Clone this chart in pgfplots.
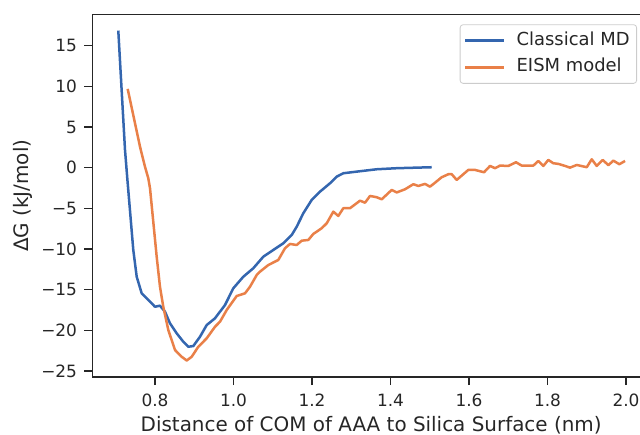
\documentclass[border=0pt]{standalone}
\usepackage{fontspec}
\setmainfont{DejaVu Sans}
\usepackage{pgfplots}
\pgfplotsset{compat=1.18}
\definecolor{mdblue}{RGB}{52,102,175}
\definecolor{eorange}{RGB}{233,128,72}
\definecolor{spine}{RGB}{38,38,38}
\begin{document}
\begin{tikzpicture}
\path[use as bounding box, clip] (-92.7bp,-58.3bp) rectangle (547.3bp,376.7bp);
\begin{axis}[
  scale only axis,
  width=556.9bp, height=362bp,
  at={(0,0)}, anchor=south west,
  xmin=0.6413, xmax=2.060,
  ymin=-25.7, ymax=18.8,
  xtick={0.8,1.0,1.2,1.4,1.6,1.8,2.0},
  xticklabels={0.8,1.0,1.2,1.4,1.6,1.8,2.0},
  ytick={-25,-20,-15,-10,-5,0,5,10,15},
  yticklabels={−25,−20,−15,−10,−5,0,5,10,15},
  xtick pos=bottom, ytick pos=left,
  tick align=outside,
  major tick length=8.5bp,
  tick style={line width=1.5bp, color=spine},
  axis line style={line width=1.6bp, color=spine},
  ticklabel style={font=\fontsize{17}{20}\selectfont, text=spine},
  xticklabel style={anchor=base, yshift=-21.5bp},
  yticklabel style={anchor=east, xshift=0bp, inner sep=7bp},
  every axis x label/.style={at={(axis description cs:0.5,0)}, anchor=base, yshift=-54.8bp, font=\fontsize{20}{24}\selectfont, text=spine},
  every axis y label/.style={at={(axis description cs:0,0.5)}, anchor=center, xshift=-69.5bp, rotate=90, font=\fontsize{20}{24}\selectfont, text=spine},
  xlabel={Distance of COM of AAA to Silica Surface (nm)},
  ylabel={ΔG (kJ/mol)},
  legend style={at={(rel axis cs:0.9774,0.9735)}, anchor=north east, draw=black!20, rounded corners=3bp, fill=white, font=\fontsize{18}{21}\selectfont, text=spine, inner xsep=4bp, inner ysep=4.5bp, nodes={inner sep=3bp, text height=13bp, text depth=4bp}, row sep=3.7bp, line width=0.8bp, /tikz/every odd column/.append style={column sep=8bp}},
  legend cell align=left,
  legend image code/.code={\draw[#1, line width=2.5bp] (0bp,0bp) -- (39bp,0bp);},
]
\addplot[color=mdblue, line width=2.5bp, line join=round] coordinates {
(0.7065,16.85) (0.7236,2.18) (0.7294,-1.30) (0.7447,-10.12) (0.7534,-13.41)
(0.7661,-15.45) (0.7873,-16.48) (0.800,-17.10) (0.8127,-16.97) (0.8255,-17.71)
(0.8382,-19.14) (0.8553,-20.37) (0.8721,-21.40) (0.8848,-22.02) (0.8976,-21.93)
(0.9146,-20.79) (0.9317,-19.35) (0.9529,-18.52) (0.9783,-16.89) (0.9995,-14.83)
(1.025,-13.41) (1.0504,-12.37) (1.0759,-10.95) (1.1014,-10.12) (1.1269,-9.30)
(1.1483,-8.28) (1.161,-7.26) (1.1778,-5.61) (1.1992,-3.97) (1.2204,-2.95)
(1.2459,-1.92) (1.2629,-1.11) (1.2797,-0.69) (1.3139,-0.49) (1.3648,-0.20)
(1.4158,-0.07) (1.505,0.05)
};
\addlegendentry{Classical MD}
\addplot[color=eorange, line width=2.5bp, line join=round] coordinates {
(0.7304,9.68) (0.7618,2.58) (0.7745,0.12) (0.7829,-1.30) (0.7873,-2.53)
(0.7957,-6.68) (0.8043,-10.95) (0.8127,-14.64) (0.8211,-17.10) (0.8339,-19.96)
(0.851,-22.42) (0.868,-23.25) (0.8808,-23.71) (0.8935,-23.25) (0.9103,-22.02)
(0.9317,-20.98) (0.9529,-19.56) (0.9656,-18.94) (0.9827,-17.50) (1.0081,-15.78)
(1.0293,-15.45) (1.042,-14.64) (1.0591,-13.20) (1.0675,-12.79) (1.0887,-11.97)
(1.1141,-11.35) (1.1312,-9.91) (1.1439,-9.38) (1.161,-9.51) (1.1738,-8.98)
(1.1906,-8.89) (1.2033,-8.15) (1.2247,-7.45) (1.2375,-6.84) (1.2543,-5.41)
(1.267,-5.94) (1.2797,-4.99) (1.2968,-4.99) (1.3223,-4.06) (1.335,-4.31)
(1.3478,-3.48) (1.3648,-3.64) (1.3776,-3.89) (1.403,-2.74) (1.4158,-3.05)
(1.4369,-2.66) (1.4581,-2.04) (1.4708,-2.25) (1.4879,-2.00) (1.5006,-2.34)
(1.5134,-1.85) (1.5304,-1.18) (1.5473,-0.81) (1.5559,-0.81) (1.5686,-1.51)
(1.5982,-0.28) (1.6153,-0.28) (1.6382,-0.57) (1.6535,0.21) (1.6662,-0.07)
(1.6790,0.25) (1.7001,0.21) (1.7197,0.66) (1.7342,0.25) (1.7638,0.25)
(1.7765,0.82) (1.7893,0.21) (1.8020,0.95) (1.8148,0.54) (1.8275,0.46)
(1.8446,0.21) (1.8573,0.00) (1.8744,0.33) (1.8999,0.05) (1.9126,1.03)
(1.9253,0.21) (1.9406,0.95) (1.9549,0.30) (1.9676,0.86) (1.9829,0.42)
(1.9975,0.82)
};
\addlegendentry{EISM model}
\end{axis}
\end{tikzpicture}
\end{document}
